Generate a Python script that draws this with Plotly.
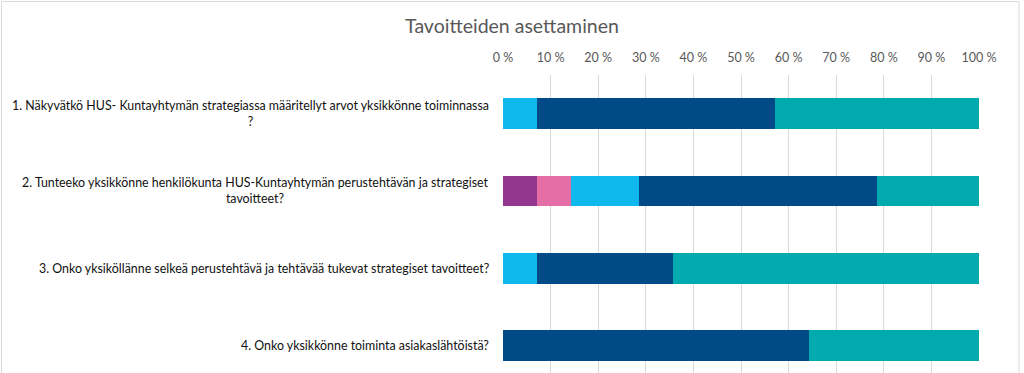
import plotly.graph_objects as go

questions = ["Q1", "Q2", "Q3", "Q4"]
question_labels = [
    "1. Näkyvätkö HUS- Kuntayhtymän strategiassa määritellyt arvot yksikkönne toiminnassa<br>?",
    "2. Tunteeko yksikkönne henkilökunta HUS-Kuntayhtymän perustehtävän ja strategiset<br>tavoitteet?",
    "3. Onko yksiköllänne selkeä perustehtävä ja tehtävää tukevat strategiset tavoitteet?",
    "4. Onko yksikkönne toiminta asiakaslähtöistä?",
]
series_names = ["1", "2", "3", "4", "5"]
series_colors = ["#93378E", "#E56EA7", "#0FB9EE", "#004B87", "#00AAAE"]
values_1 = [0.0, 7.14, 0.0, 0.0]
values_2 = [0.0, 7.14, 0.0, 0.0]
values_3 = [7.14, 14.29, 7.14, 0.0]
values_4 = [50.0, 50.0, 28.57, 64.29]
values_5 = [42.86, 21.43, 64.29, 35.71]
series_values = [values_1, values_2, values_3, values_4, values_5]
x_tick_vals = [0, 10, 20, 30, 40, 50, 60, 70, 80, 90, 100]
x_tick_text = ["0 %", "10 %", "20 %", "30 %", "40 %", "50 %", "60 %", "70 %", "80 %", "90 %", "100 %"]
title_text = "Tavoitteiden asettaminen"

FONT = "Lato, 'Open Sans', sans-serif"

fig = go.Figure()
for name, color, vals in zip(series_names, series_colors, series_values):
    fig.add_trace(go.Bar(
        y=questions, x=vals, name=name, orientation="h",
        marker=dict(color=color, line=dict(width=0)),
        hoverinfo="x+name",
    ))

annotations = []
for q, lab in zip(questions, question_labels):
    annotations.append(dict(
        x=0, xref="paper", y=q, yref="y", text=lab, showarrow=False,
        xanchor="right", yanchor="middle", align="center", xshift=-12,
        font=dict(family=FONT, size=12.4, color="#111111"),
    ))

fig.update_layout(
    width=1024, height=373,
    barmode="stack", bargap=0.605,
    showlegend=False,
    paper_bgcolor="white", plot_bgcolor="white",
    margin=dict(l=503, r=45, t=75, b=0),
    title=dict(text=title_text, x=0.5, xref="container", xanchor="center",
               y=1 - 26 / 373, yref="container", yanchor="middle",
               font=dict(family=FONT, size=19.5, color="#595959")),
    xaxis=dict(side="top", range=[0, 100], tickvals=x_tick_vals, ticktext=x_tick_text,
               showgrid=True, gridcolor="#d9d9d9", gridwidth=1, zeroline=False,
               showline=False, ticks="", ticklabelstandoff=10,
               tickfont=dict(family=FONT, size=12.5, color="#595959")),
    yaxis=dict(categoryorder="array", categoryarray=questions,
               range=[3.355, -0.5], showticklabels=False, showgrid=False,
               zeroline=False, showline=False, ticks=""),
    annotations=annotations,
    shapes=[dict(type="rect", xref="paper", yref="paper",
                 x0=(1.5 - 503) / 476, x1=(1019 - 503) / 476,
                 y0=-0.2, y1=(373 - 1.5) / 298,
                 line=dict(color="#d9d9d9", width=1), fillcolor="rgba(0,0,0,0)",
                 layer="below")],
)

fig.write_html("out.html", config={"displayModeBar": False},
               post_script="document.body.style.margin='0';document.body.style.overflow='hidden';")
